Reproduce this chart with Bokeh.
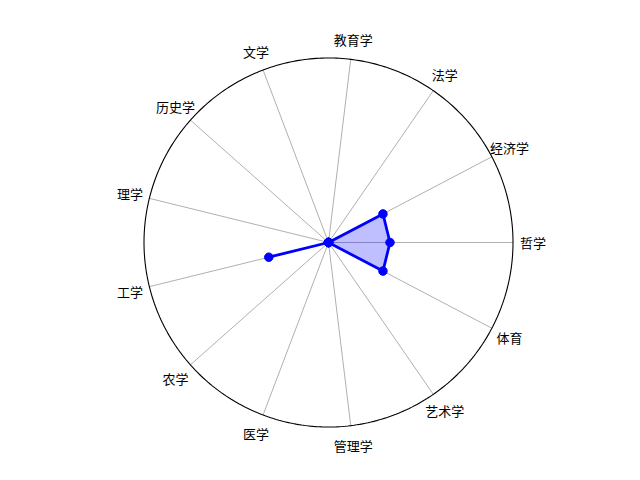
import numpy as np
from bokeh.plotting import figure
from bokeh.models import ColumnDataSource
from bokeh.core.properties import value
from bokeh.embed import file_html
from bokeh.resources import INLINE

categories = ["哲学", "经济学", "法学", "教育学", "文学", "历史学", "理学",
              "工学", "农学", "医学", "管理学", "艺术学", "体育"]
values = [1, 1, 0, 0, 0, 0, 0, 1, 0, 0, 0, 0, 1]
rmax = 3

W, H = 640, 480
px_per_unit = 184.5 / rmax
cx_px, cy_px = 328, 242
x_range = (-cx_px / px_per_unit, (W - cx_px) / px_per_unit)
y_range = (-(H - cy_px) / px_per_unit, cy_px / px_per_unit)

p = figure(width=W, height=H, x_range=x_range, y_range=y_range,
           x_axis_type=None, y_axis_type=None, toolbar_location=None,
           output_backend="svg", min_border=0)
p.grid.visible = False
p.outline_line_color = None
p.background_fill_color = "white"
p.border_fill_color = "white"

n = len(categories)
ang = np.arange(n) * 2 * np.pi / n

# spokes
p.segment(x0=np.zeros(n), y0=np.zeros(n), x1=rmax * np.cos(ang), y1=rmax * np.sin(ang),
          line_color="#b0b0b0", line_width=1)
# outer circle
t = np.linspace(0, 2 * np.pi, 400)
p.line(rmax * np.cos(t), rmax * np.sin(t), line_color="black", line_width=1.1)

vals = np.array(values, dtype=float)
xs = vals * np.cos(ang)
ys = vals * np.sin(ang)
xc = np.append(xs, xs[0])
yc = np.append(ys, ys[0])
p.patch(xc, yc, fill_color="blue", fill_alpha=0.25, line_color=None)
p.line(xc, yc, line_color="blue", line_width=2.8)
p.scatter(xs, ys, size=8.5, fill_color="blue", line_color="blue")

lr = 204.5 / px_per_unit
src = ColumnDataSource(dict(x=lr * np.cos(ang), y=lr * np.sin(ang), t=categories))
p.text(x="x", y="y", text="t", source=src, text_align="center", text_baseline="middle",
       text_font=value("Noto Sans CJK SC"), text_font_size="13px", text_color="black")

open("out.html", "w").write(file_html(p, INLINE))
